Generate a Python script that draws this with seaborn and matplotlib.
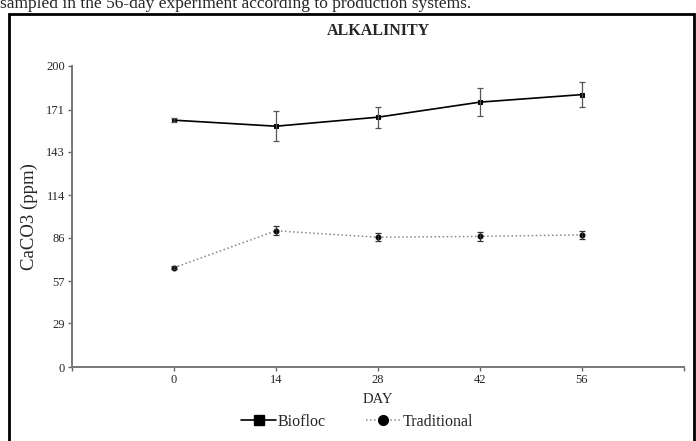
import pandas as pd
import matplotlib
matplotlib.use('Agg')
import matplotlib.pyplot as plt
import seaborn as sns
from matplotlib.lines import Line2D
from matplotlib.patches import Rectangle

# Alkalinity (CaCO3 ppm) by sampling day, mean and error
days = [0, 14, 28, 42, 56]
biofloc_mean = [164, 160, 166, 176, 181]
biofloc_err = [1.5, 10, 7, 9.3, 8.5]
traditional_mean = [66, 90.5, 86.2, 86.8, 87.8]
traditional_err = [1, 2.9, 2.7, 3.2, 2.6]
y_ticks = [0, 29, 57, 86, 114, 143, 171, 200]
x_ticks = [-14, 0, 14, 28, 42, 56, 70]
x_labels = ['', '0', '14', '28', '42', '56', '']

sns.set_style('ticks')
plt.rcParams['font.family'] = ['Liberation Serif', 'DejaVu Serif']

df = pd.DataFrame({
    'DAY': days * 2,
    'CaCO3': biofloc_mean + traditional_mean,
    'err': biofloc_err + traditional_err,
    'System': ['Biofloc'] * 5 + ['Traditional'] * 5,
})

fig = plt.figure(figsize=(6.96, 4.41), dpi=100)
ax = fig.add_axes([72 / 696, 1 - 367 / 441, 612 / 696, 301 / 441])

styles = {
    'Biofloc': dict(color='black', ls='-', marker='s', lw=1.2, ecolor='#555555'),
    'Traditional': dict(color='#888888', ls=':', marker='o', lw=1.1, ecolor='#333333'),
}
for name, sub in df.groupby('System'):
    st = styles[name]
    sns.lineplot(data=sub, x='DAY', y='CaCO3', ax=ax, color=st['color'],
                 linestyle=st['ls'], lw=st['lw'], marker=st['marker'],
                 markersize=3.5, markerfacecolor='black', markeredgecolor='black',
                 legend=False)
    ax.errorbar(sub['DAY'], sub['CaCO3'], yerr=sub['err'], fmt='none',
                ecolor=st['ecolor'], elinewidth=0.9, capsize=2.5, capthick=0.9)

ax.set_xlim(-14, 70)
ax.set_ylim(0, 200)
ax.set_xticks(x_ticks)
ax.set_xticklabels(x_labels)
ax.set_yticks(y_ticks)
ax.tick_params(labelsize=9, length=3, width=1, color='#666666', pad=2)
for s in ['top', 'right']:
    ax.spines[s].set_visible(False)
for s in ['left', 'bottom']:
    ax.spines[s].set_color('#777777')
    ax.spines[s].set_linewidth(1.4)

ax.set_xlabel('DAY', fontsize=10.5, labelpad=5)
ax.set_ylabel('CaCO3 (ppm)', fontsize=13.5, labelpad=6)
fig.text(378 / 696, 1 - 31 / 441, 'ALKALINITY', ha='center', va='center',
         fontsize=11.5, fontweight='bold')

# caption line cut at the top of the picture
fig.text(0.0, 1 - 4 / 441, 'sampled in the 56-day experiment according to production systems.',
         ha='left', va='center', fontsize=12.5)

# frame around the figure
fig.patches.append(Rectangle((9 / 696, -0.05), 685 / 696, 1.05 - 14 / 441,
                             transform=fig.transFigure, fill=False,
                             edgecolor='black', lw=2))

handles = [
    Line2D([], [], color='black', ls='-', lw=1.2, marker='s', markersize=7),
    Line2D([], [], color='#888888', ls=':', lw=1.1, marker='o', markersize=7,
           markerfacecolor='black', markeredgecolor='black'),
]
fig.legend(handles, ['Biofloc', 'Traditional'], loc='center',
           bbox_to_anchor=(357 / 696, 1 - 422 / 441), ncol=2, frameon=False,
           fontsize=11.5, handlelength=2.2, handletextpad=0.1, columnspacing=2.5)

fig.savefig('out.png', dpi=100)
